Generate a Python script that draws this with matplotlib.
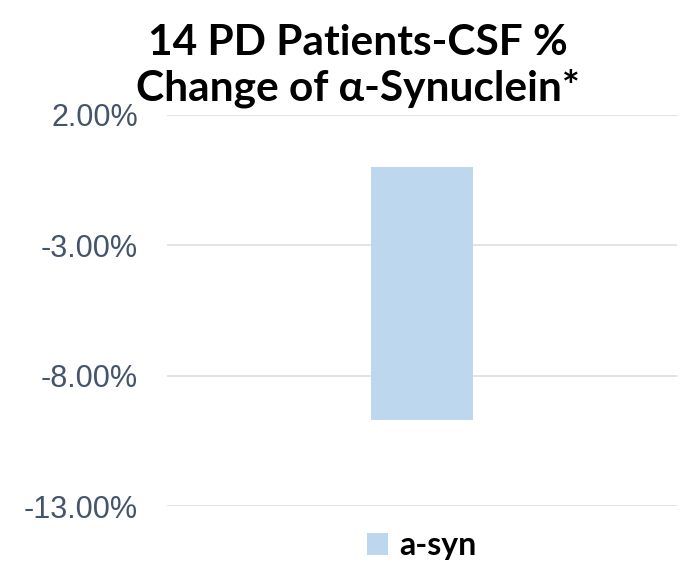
import matplotlib.pyplot as plt
from matplotlib.ticker import FuncFormatter

# data
categories = ["a-syn"]
pct_change = [-9.7]
y_ticks = [2, -3, -8, -13]
title_lines = ["14 PD Patients-CSF %", "Change of α-Synuclein*"]

W, H = 681, 563
fig = plt.figure(figsize=(W / 100, H / 100), dpi=100)
ax = fig.add_axes([167/W, 1 - 506/H, 510/W, 391/H])

ax.bar([0], pct_change, width=0.2, color='#BDD7EE', label=categories[0], zorder=2)
ax.set_xlim(-0.5, 0.5)
ax.set_ylim(-13, 2)
ax.set_yticks(y_ticks)
ax.yaxis.set_major_formatter(FuncFormatter(lambda v, p: '%.2f%%' % v))
ax.grid(axis='y', color='#DDE1E6', linewidth=1.3, zorder=0)
ax.set_xticks([])
for s in ax.spines.values():
    s.set_visible(False)
ax.tick_params(axis='y', length=0, pad=21, labelsize=22, labelcolor='#44546A')
for t in ax.get_yticklabels():
    t.set_family('Liberation Sans')

# title, one text per line
for line, base in zip(title_lines, [55, 100]):
    fig.text(358/W, 1 - base/H, line, ha='center', va='baseline',
             fontsize=30.5, fontweight='bold', family='Lato')

leg = ax.legend(loc='center', bbox_to_anchor=(0.5, -0.102), frameon=False,
                prop={'family': 'Lato', 'weight': 'bold', 'size': 23},
                handlelength=0.66, handleheight=0.66, handletextpad=0.35)

fig.savefig('out.png', dpi=100)
